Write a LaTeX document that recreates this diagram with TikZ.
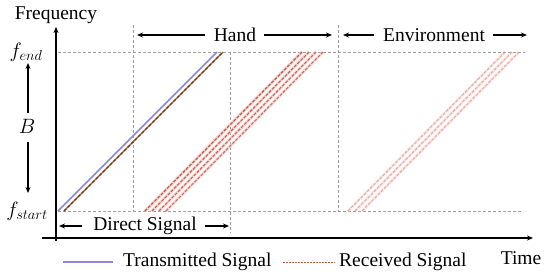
\documentclass[tikz,border=0pt]{standalone}
\usepackage{fontspec}
\setmainfont{Liberation Serif}
\usetikzlibrary{arrows.meta}
\definecolor{txblue}{RGB}{140,135,220}
\definecolor{rxdark}{RGB}{95,70,30}
\definecolor{rxred}{RGB}{205,70,40}
\definecolor{rxbrown}{RGB}{185,90,65}
\definecolor{halo}{RGB}{250,205,205}
\definecolor{guide}{RGB}{160,160,160}
\tikzset{
  lbl/.style={font=\fontsize{19.5}{22}\selectfont, inner sep=0pt},
  mlbl/.style={font=\fontsize{21}{24}\selectfont, inner sep=0pt},
  guideline/.style={draw=guide, line width=0.7pt, dash pattern=on 3pt off 2pt},
  axis/.style={line width=1.8pt, -{Stealth[length=6pt,width=5pt]}},
  span/.style={line width=1.3pt, -{Stealth[length=6pt,width=5pt]}},
  txline/.style={draw=txblue, line width=1.6pt},
  rxhalo/.style={draw=halo, line width=3pt},
  rxdash/.style={draw=rxbrown, line width=1.1pt, dash pattern=on 3pt off 1.5pt},
}
\begin{document}
\begin{tikzpicture}[x=1pt,y=-1pt]
\useasboundingbox (0,0) rectangle (550,277);
% guide lines
\coordinate (e0) at (58,52); \coordinate (e1) at (525,52);
\coordinate (s0) at (58,211); \coordinate (s1) at (522,211);
\draw[guideline] (e0) -- (e1);
\draw[guideline] (s0) -- (s1);
\coordinate (v1t) at (133,25); \coordinate (v1b) at (133,211);
\coordinate (v2t) at (230,52); \coordinate (v2b) at (230,233);
\coordinate (v3t) at (338,25); \coordinate (v3b) at (338,211);
\draw[guideline] (v1t) -- (v1b);
\draw[guideline] (v2t) -- (v2b);
\draw[guideline] (v3t) -- (v3b);
% axes
\coordinate (yb) at (56,241); \coordinate (yt) at (56,27);
\coordinate (xl) at (42,238); \coordinate (xr) at (533,238);
\draw[axis] (yb) -- (yt);
\draw[axis] (xl) -- (xr);
% labels
\node[lbl] (freq) at (56,15) {Frequency};
\node[lbl] (time) at (521,258) {Time};
\node[mlbl] (fend) at (26,52) {$f_{end}$};
\node[mlbl] (fstart) at (27,211) {$f_{start}$};
\node[mlbl] (B) at (27,126) {$B$};
\coordinate (bu0) at (28,113); \coordinate (bu1) at (28,63);
\coordinate (bd0) at (28,142); \coordinate (bd1) at (28,193);
\draw[span] (bu0) -- (bu1);
\draw[span] (bd0) -- (bd1);
% hand
\node[lbl] (hand) at (235,35) {Hand};
\coordinate (h0) at (205,35); \coordinate (h1) at (137,35);
\coordinate (h2) at (264,35); \coordinate (h3) at (332,35);
\draw[span] (h0) -- (h1);
\draw[span] (h2) -- (h3);
% environment
\node[lbl] (env) at (434,35) {Environment};
\coordinate (n0) at (374,35); \coordinate (n1) at (343,35);
\coordinate (n2) at (493,35); \coordinate (n3) at (527,35);
\draw[span] (n0) -- (n1);
\draw[span] (n2) -- (n3);
% direct
\node[lbl] (direct) at (145,226) {Direct Signal};
\coordinate (d0) at (82,226); \coordinate (d1) at (59,226);
\coordinate (d2) at (205,226); \coordinate (d3) at (229,226);
\draw[span] (d0) -- (d1);
\draw[span] (d2) -- (d3);
% transmitted
\coordinate (t0) at (58,211); \coordinate (t1) at (217,52);
\draw[txline] (t0) -- (t1);
% direct received
\coordinate (r0) at (64,211); \coordinate (r1) at (223,52);
\draw[draw=rxred, line width=1.4pt] (r0) -- (r1);
\draw[draw=rxdark, line width=1.4pt, dash pattern=on 3pt off 2pt] (r0) -- (r1);
% hand echoes
\foreach \b/\op in {145/1, 152/0.9, 159/0.85, 166/0.8} {
  \coordinate (hb) at (\b,211); \coordinate (ht) at (\b+157,52);
  \draw[rxhalo, opacity=\op] (hb) -- (ht);
  \draw[rxdash, opacity=\op] (hb) -- (ht);
}
% environment echoes
\foreach \b in {348,355,362} {
  \coordinate (eb) at (\b,211); \coordinate (et) at (\b+157,52);
  \draw[rxhalo, opacity=0.45] (eb) -- (et);
  \draw[rxdash, opacity=0.4] (eb) -- (et);
}
% legend
\coordinate (la0) at (63,262); \coordinate (la1) at (113,262);
\draw[txline] (la0) -- (la1);
\node[lbl, anchor=west] (ltx) at (123,262) {Transmitted Signal};
\coordinate (lb0) at (283,262); \coordinate (lb1) at (335,262);
\draw[draw=rxbrown, line width=0.9pt, dash pattern=on 2pt off 1pt] (lb0) -- (lb1);
\node[lbl, anchor=west] (lrx) at (339,262) {Received Signal};
\end{tikzpicture}
\end{document}
